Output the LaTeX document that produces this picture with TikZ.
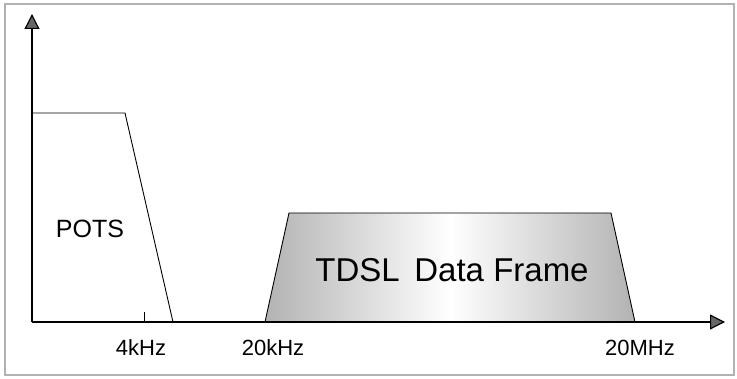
\documentclass[tikz,border=0pt]{standalone}
\usepackage{fontspec}
\setmainfont{Liberation Sans}
\usepackage{tikz}
\usetikzlibrary{arrows.meta}

\begin{document}
\begin{tikzpicture}[x=1pt,y=-1pt,
    axis/.style={line width=2.2pt,
      -{Triangle[width=15pt,length=15pt,fill=black!60,line width=1.2pt]}},
    band/.style={draw=black,line width=0.9pt},
    freq/.style={font=\fontsize{22}{26}\selectfont}]

  \useasboundingbox (0,0) rectangle (737,379);
  \draw[gray!60,line width=1.2pt] (5,4) rectangle (734,375);

  \coordinate (O)    at (32,322);
  \coordinate (ytop) at (32,14);
  \coordinate (xend) at (725,322);

  % POTS band
  \draw[band] (O |- 0,113) -- (125,113) -- (173,322);
  \node[font=\fontsize{25}{29}\selectfont] (pots) at (90,229) {POTS};

  % TDSL band
  \shade[left color=gray!60,right color=gray!60,middle color=white]
    (265,322) -- (289,213) -- (611,213) -- (635,322) -- cycle;
  \draw[band] (265,322) -- (289,213) -- (611,213) -- (635,322);
  \node[font=\fontsize{33}{38}\selectfont] (tdsl) at (452,270) {TDSL\, Data Frame};

  % axes
  \draw[axis] (O) -- (ytop);
  \draw[axis] (O) -- (xend);
  \draw[line width=1pt] (144,312) -- (144,322);

  \node[freq] (f4k)  at (141,348) {4kHz};
  \node[freq] (f20k) at (273,348) {20kHz};
  \node[freq] (f20m) at (640,348) {20MHz};
\end{tikzpicture}
\end{document}
